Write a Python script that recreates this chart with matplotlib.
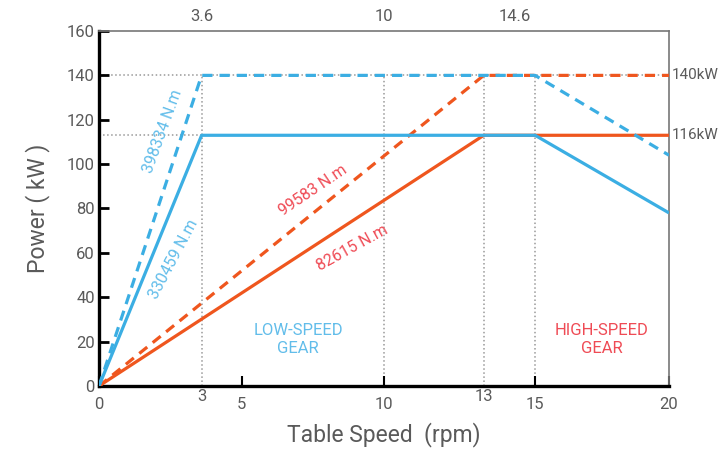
import numpy as np
import matplotlib
matplotlib.use("Agg")
import matplotlib.pyplot as plt

plt.rcParams['font.family'] = ['Roboto', 'DejaVu Sans']

# ---------------- data -----------------
low_x = [0, 3.6, 15.3, 20]          # low-speed gear (blue)
low_solid = [0, 113, 113, 78]
low_dash = [0, 140, 140, 104]

high_x = [0, 13.5, 20]              # high-speed gear (orange)
high_solid = [0, 113, 113]
high_dash = [0, 140, 140]

bottom_ticks = [0, 5, 10, 15.3, 20]
bottom_labels = ['0', '5', '10', '15', '20']
knee_ticks = [3.6, 13.5]
knee_labels = ['3', '13']
top_ticks = [3.6, 10, 14.6]
top_labels = ['3.6', '10', '14.6']
grid_x = [3.6, 10, 13.5, 15.3]
y_ticks = np.arange(0, 161, 20)
right_levels = [140, 113]
right_labels = ['140kW', '116kW']

BLUE = '#3BAEE3'
ORANGE = '#EF561E'
BLUE_TXT = '#62BDEA'
RED_TXT = '#EF4B55'
GREY = '#5a5a5a'

fig = plt.figure(figsize=(7.19, 4.54), dpi=100)
ax = fig.add_axes([0.1377, 0.1498, 0.7928, 0.7819])
ax.set_xlim(0, 20)
ax.set_ylim(0, 160)

# dotted guide lines
for gx in grid_x:
    ax.plot([gx, gx], [0, 140], color='#999999', ls=':', lw=1.1, zorder=1)
ax.plot([0, 20], [140, 140], color='#999999', ls=':', lw=1.1, zorder=1)
ax.plot([0, 3.6], [113, 113], color='#999999', ls=':', lw=1.1, zorder=1)

# power curves
ax.plot(high_x, high_solid, color=ORANGE, lw=2.3, zorder=3, solid_capstyle='butt')
ax.plot(high_x, high_dash, color=ORANGE, lw=2.3, dashes=(3.2, 2.2), zorder=3)
ax.plot(low_x, low_solid, color=BLUE, lw=2.3, zorder=4, solid_capstyle='butt')
ax.plot(low_x, low_dash, color=BLUE, lw=2.3, dashes=(3.2, 2.2), zorder=4)

# torque annotations
ax.text(2.25, 115, '398334 N.m', color=BLUE_TXT, fontsize=11.5, rotation=70,
        ha='center', va='center')
ax.text(2.6, 57, '330459 N.m', color=BLUE_TXT, fontsize=11.5, rotation=62,
        ha='center', va='center')
ax.text(7.5, 88, '99583 N.m', color=RED_TXT, fontsize=11.5, rotation=34,
        ha='center', va='center')
ax.text(8.9, 62, '82615 N.m', color=RED_TXT, fontsize=11.5, rotation=29,
        ha='center', va='center')

ax.text(6.98, 21, 'LOW-SPEED\nGEAR', color=BLUE_TXT, fontsize=12,
        ha='center', va='center', linespacing=1.3)
ax.text(17.65, 21, 'HIGH-SPEED\nGEAR', color=RED_TXT, fontsize=12,
        ha='center', va='center', linespacing=1.3)

# right side power labels
for lv, lb in zip(right_levels, right_labels):
    ax.text(20.08, lv, lb, color=GREY, fontsize=11, ha='left', va='center',
            clip_on=False)

# spines
for s in ['left', 'bottom']:
    ax.spines[s].set_linewidth(2.4)
    ax.spines[s].set_color('black')
for s in ['top', 'right']:
    ax.spines[s].set_linewidth(1.2)
    ax.spines[s].set_color('#777777')

ax.set_yticks(y_ticks)
ax.tick_params(axis='y', direction='in', length=7, width=2, colors='black',
               labelcolor=GREY, labelsize=12, pad=3)
ax.set_xticks(bottom_ticks)
ax.set_xticklabels(bottom_labels)
ax.tick_params(axis='x', direction='in', length=7, width=1.5, colors='black',
               labelcolor=GREY, labelsize=12, pad=8)
for kx, kl in zip(knee_ticks, knee_labels):
    ax.text(kx, -1.5, kl, color=GREY, fontsize=12, ha='center', va='top')

# top labels
top = ax.twiny()
top.set_xlim(ax.get_xlim())
top.set_xticks(top_ticks)
top.set_xticklabels(top_labels)
top.tick_params(axis='x', length=0, labelcolor=GREY, labelsize=12, pad=5)
for s in top.spines.values():
    s.set_visible(False)

ax.set_xlabel('Table Speed  (rpm)', fontsize=16.5, color=GREY, labelpad=7)
ax.set_ylabel('Power ( kW )', fontsize=16.5, color=GREY, labelpad=12)

fig.savefig('out.png', dpi=100)
